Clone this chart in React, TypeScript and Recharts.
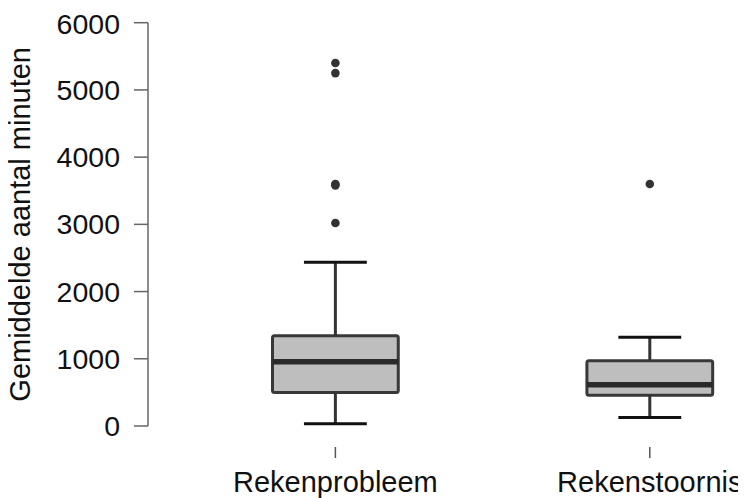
import {
  ComposedChart,
  XAxis,
  YAxis,
  Scatter,
  ReferenceArea,
  ReferenceLine,
} from 'recharts'

const categories = ['Rekenprobleem', 'Rekenstoornis']
const positions = [1, 2]
const lowerWhisker = [35, 125]
const q1 = [500, 457]
const median = [957, 612]
const q3 = [1343, 970]
const upperWhisker = [2435, 1320]
const outliers = [
  [5400, 5250, 3600, 3580, 3020],
  [3600],
]
const yTicks = [0, 1000, 2000, 3000, 4000, 5000, 6000]

const BOX_HALF = 0.2
const CAP_HALF = 0.1
const FONT = '"Liberation Sans", Arial, sans-serif'

const outlierData = outliers.flatMap((vals, i) =>
  vals.map((v) => ({ x: positions[i], y: v })),
)

// tick y arrives as axis y + tickSize(6) + tickMargin(2)
function XTick(props: any) {
  const { x, y, payload } = props
  const idx = positions.indexOf(payload.value)
  return (
    <g>
      <line x1={x} x2={x} y1={y + 13} y2={y + 24} stroke="#555" strokeWidth={1.5} />
      <text x={x} y={y + 58} textAnchor="middle" fontSize={29} fontFamily={FONT} fill="#111">
        {categories[idx]}
      </text>
    </g>
  )
}

export default function App() {
  return (
    <ComposedChart
      width={746}
      height={490}
      style={{ marginLeft: -8 }}
      data={outlierData}
      margin={{ top: 14.7, right: 0, bottom: 0, left: 0 }}
    >
      <XAxis
        type="number"
        dataKey="x"
        domain={[0.404, 2.306]}
        ticks={positions}
        allowDataOverflow
        axisLine={false}
        tickLine={false}
        tickSize={6}
        tickMargin={2}
        height={72}
        tick={<XTick />}
        interval={0}
      />
      <YAxis
        type="number"
        dataKey="y"
        domain={[0, 6000]}
        ticks={yTicks}
        width={148}
        stroke="#666"
        strokeWidth={1.5}
        tickSize={14}
        tickMargin={14}
        tick={{ fontSize: 28.5, fontFamily: FONT, fill: '#111' }}
        label={{
          value: 'Gemiddelde aantal minuten',
          angle: -90,
          position: 'center',
          dx: -54,
          fontSize: 29,
          fontFamily: FONT,
          fill: '#111',
        }}
      />
      {positions.map((p, i) => (
        <ReferenceLine
          key={`lw-${i}`}
          segment={[
            { x: p, y: lowerWhisker[i] },
            { x: p, y: q1[i] },
          ]}
          stroke="#333"
          strokeWidth={3}
        />
      ))}
      {positions.map((p, i) => (
        <ReferenceLine
          key={`uw-${i}`}
          segment={[
            { x: p, y: q3[i] },
            { x: p, y: upperWhisker[i] },
          ]}
          stroke="#333"
          strokeWidth={3}
        />
      ))}
      {positions.map((p, i) => (
        <ReferenceLine
          key={`lc-${i}`}
          segment={[
            { x: p - CAP_HALF, y: lowerWhisker[i] },
            { x: p + CAP_HALF, y: lowerWhisker[i] },
          ]}
          stroke="#111"
          strokeWidth={3}
        />
      ))}
      {positions.map((p, i) => (
        <ReferenceLine
          key={`uc-${i}`}
          segment={[
            { x: p - CAP_HALF, y: upperWhisker[i] },
            { x: p + CAP_HALF, y: upperWhisker[i] },
          ]}
          stroke="#111"
          strokeWidth={3}
        />
      ))}
      {positions.map((p, i) => (
        <ReferenceArea
          key={`box-${i}`}
          x1={p - BOX_HALF}
          x2={p + BOX_HALF}
          y1={q1[i]}
          y2={q3[i]}
          fill="#bebebe"
          fillOpacity={1}
          stroke="#383838"
          strokeWidth={3}
          radius={2}
        />
      ))}
      {positions.map((p, i) => (
        <ReferenceLine
          key={`med-${i}`}
          segment={[
            { x: p - BOX_HALF, y: median[i] },
            { x: p + BOX_HALF, y: median[i] },
          ]}
          stroke="#2a2a2a"
          strokeWidth={5.5}
        />
      ))}
      <Scatter
        data={outlierData}
        dataKey="y"
        fill="#333"
        isAnimationActive={false}
        shape={(props: any) => <circle cx={props.cx} cy={props.cy} r={4.3} fill="#333" />}
      />
    </ComposedChart>
  )
}
